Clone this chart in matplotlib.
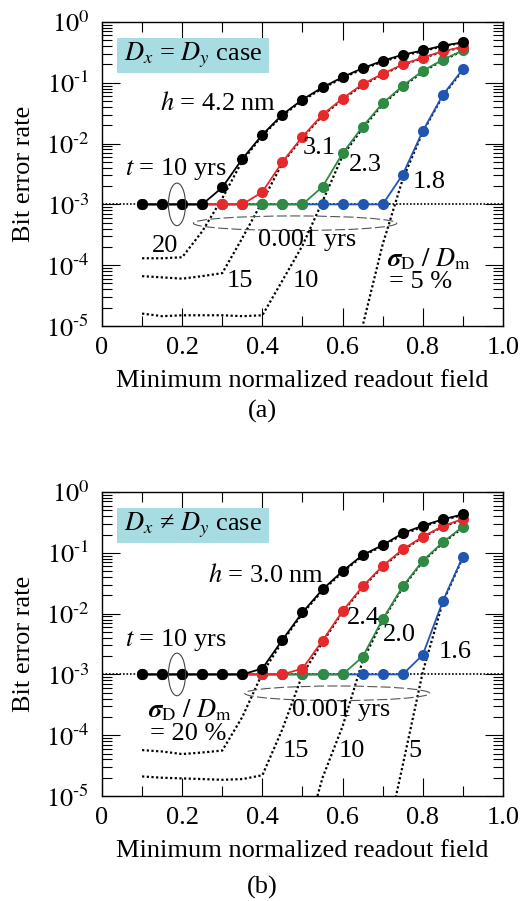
import matplotlib
matplotlib.use("Agg")
import matplotlib.pyplot as plt
from matplotlib.patches import Ellipse, Rectangle
from matplotlib.ticker import LogLocator, NullFormatter, MultipleLocator

plt.rcParams['font.family'] = ['Liberation Serif', 'DejaVu Serif']
plt.rcParams['mathtext.fontset'] = 'stix'

# ---------------- data ----------------
X = [0.10, 0.15, 0.20, 0.25, 0.30, 0.35, 0.40, 0.45, 0.50,
     0.55, 0.60, 0.65, 0.70, 0.75, 0.80, 0.85, 0.90]

# panel (a): Dx = Dy, t = 10 yrs
A_H_LABELS = ['4.2', '3.1', '2.3', '1.8']
A_BLACK = [1e-3, 1e-3, 1e-3, 1e-3, 1.9e-3, 5.6e-3, 1.4e-2, 3.0e-2, 5.3e-2,
           8.4e-2, 0.124, 0.174, 0.23, 0.29, 0.34, 0.41, 0.46]
A_RED = [1e-3, 1e-3, 1e-3, 1e-3, 1e-3, 1e-3, 1.6e-3, 5.0e-3, 1.3e-2,
         3.0e-2, 5.5e-2, 9.5e-2, 0.14, 0.20, 0.26, 0.33, 0.39]
A_GREEN = [1e-3, 1e-3, 1e-3, 1e-3, 1e-3, 1e-3, 1e-3, 1e-3, 1e-3,
           1.95e-3, 6.9e-3, 1.9e-2, 4.6e-2, 8.9e-2, 0.157, 0.24, 0.34]
A_BLUE = [1e-3, 1e-3, 1e-3, 1e-3, 1e-3, 1e-3, 1e-3, 1e-3, 1e-3,
          1e-3, 1e-3, 1e-3, 1e-3, 3.1e-3, 1.6e-2, 6.3e-2, 0.167]
# panel (a): t = 0.001 yrs (dotted), sigma_D/D_m = 20, 15, 10, 5 %
A_S20 = [1.3e-4, 1.3e-4, 1.35e-4, 3.6e-4, 1.26e-3, 5.2e-3, 1.35e-2, 2.9e-2, 5.1e-2,
         8.1e-2, 0.12, 0.168, 0.222, 0.28, 0.33, 0.40, 0.455]
A_S15 = [6.6e-5, 6.3e-5, 6.0e-5, 6.6e-5, 7.4e-5, 2.8e-4, 1.12e-3, 4.8e-3, 1.25e-2,
         2.9e-2, 5.3e-2, 9.2e-2, 0.137, 0.197, 0.255, 0.325, 0.385]
A_S10 = [1.6e-5, 1.45e-5, 1.5e-5, 1.5e-5, 1.5e-5, 1.45e-5, 1.5e-5, 5.6e-5, 2.1e-4,
         1.12e-3, 6.3e-3, 1.8e-2, 4.4e-2, 8.6e-2, 0.152, 0.235, 0.335]
A_S5_X = [0.60, 0.65, 0.70, 0.75, 0.80, 0.85, 0.90]
A_S5 = [5e-7, 1.0e-5, 2.2e-4, 2.6e-3, 1.55e-2, 6.1e-2, 0.162]

# panel (b): Dx != Dy
B_H_LABELS = ['3.0', '2.4', '2.0', '1.6']
B_BLACK = [1e-3, 1e-3, 1e-3, 1e-3, 1e-3, 1e-3, 1.25e-3, 3.7e-3, 1.05e-2,
           2.5e-2, 5.0e-2, 9.2e-2, 0.134, 0.21, 0.28, 0.355, 0.43]
B_RED = [1e-3, 1e-3, 1e-3, 1e-3, 1e-3, 1e-3, 1e-3, 1e-3, 1.25e-3,
         3.6e-3, 1.1e-2, 2.8e-2, 6.1e-2, 0.114, 0.184, 0.276, 0.36]
B_GREEN = [1e-3, 1e-3, 1e-3, 1e-3, 1e-3, 1e-3, 1e-3, 1e-3, 1e-3,
           1e-3, 1e-3, 1.95e-3, 8.1e-3, 2.8e-2, 7.4e-2, 0.149, 0.27]
B_BLUE = [1e-3, 1e-3, 1e-3, 1e-3, 1e-3, 1e-3, 1e-3, 1e-3, 1e-3,
          1e-3, 1e-3, 1e-3, 1e-3, 1e-3, 2.1e-3, 1.6e-2, 8.7e-2]
B_S20 = [5.7e-5, 5.4e-5, 4.9e-5, 5.2e-5, 5.6e-5, 2.0e-4, 1.05e-3, 3.5e-3, 1.0e-2,
         2.4e-2, 4.8e-2, 8.9e-2, 0.13, 0.20, 0.27, 0.345, 0.42]
B_S15 = [2.1e-5, 2.0e-5, 1.95e-5, 1.9e-5, 1.85e-5, 1.9e-5, 2.2e-5, 1.26e-4, 1.0e-3,
         3.4e-3, 1.06e-2, 2.7e-2, 5.9e-2, 0.11, 0.18, 0.27, 0.35]
B_S10_X = [0.50, 0.55, 0.60, 0.65, 0.70, 0.75, 0.80, 0.85, 0.90]
B_S10 = [1.3e-6, 2.0e-5, 1.4e-4, 1.66e-3, 7.8e-3, 2.7e-2, 7.2e-2, 0.145, 0.26]
B_S5_X = [0.70, 0.75, 0.80, 0.85, 0.90]
B_S5 = [1e-6, 3.2e-5, 1.1e-3, 1.55e-2, 8.4e-2]

THRESHOLD = 1e-3
XTICKS = [0, 0.2, 0.4, 0.6, 0.8, 1.0]
XTICK_LABELS = ['0', '0.2', '0.4', '0.6', '0.8', '1.0']
YTICKS = [1e-5, 1e-4, 1e-3, 1e-2, 1e-1, 1e0]
YTICK_LABELS = [r'$10^{\text{-5}}$', r'$10^{\text{-4}}$', r'$10^{\text{-3}}$',
                r'$10^{\text{-2}}$', r'$10^{\text{-1}}$', r'$10^{0}$']

COLORS = ['black', '#e8292b', '#2f8a43', '#2156b0']
FS = 19

fig = plt.figure(figsize=(5.23, 9.01), dpi=100)
ax_a = fig.add_axes([0.195, 0.6382, 0.7667, 0.3374])
ax_b = fig.add_axes([0.195, 0.1165, 0.7667, 0.3374])

dot = (0, (1.0, 1.1))


def style(ax):
    ax.set_yscale('log')
    ax.set_xlim(0, 1.0)
    ax.set_ylim(1e-5, 1e0)
    ax.set_xticks(XTICKS)
    ax.set_xticklabels(XTICK_LABELS)
    ax.xaxis.set_minor_locator(MultipleLocator(0.1))
    ax.set_yticks(YTICKS)
    ax.set_yticklabels(YTICK_LABELS)
    ax.yaxis.set_minor_locator(LogLocator(base=10, subs=range(2, 10), numticks=20))
    ax.yaxis.set_minor_formatter(NullFormatter())
    ax.tick_params(which='both', direction='in', top=True, right=True, width=0.8)
    ax.tick_params(which='major', length=13, labelsize=FS)
    ax.tick_params(which='minor', length=7)
    ax.tick_params(axis='x', which='major', pad=8)
    ax.tick_params(axis='y', which='major', pad=9)
    for s in ax.spines.values():
        s.set_linewidth(1.0)
    ax.set_xlabel('Minimum normalized readout field', fontsize=FS)
    ax.set_ylabel('Bit error rate', fontsize=FS)
    ax.xaxis.set_label_coords(0.5, -0.145)
    ax.yaxis.set_label_coords(-0.167, 0.5)


def draw(ax, series, dotted):
    ax.axhline(THRESHOLD, color='black', lw=1.2, ls=dot, zorder=1)
    for xs, ys in dotted:
        ax.plot(xs, ys, color='black', lw=1.6, ls=dot, zorder=2)
    for i in reversed(range(len(series))):
        ax.plot(X, series[i], color=COLORS[i], lw=1.3, marker='o', ms=8,
                mec='none', zorder=3 + (len(series) - i))


def case_box(ax, txt):
    ax.add_patch(Rectangle((0.0375, 0.832), 0.38, 0.115, transform=ax.transAxes,
                           facecolor='#a8dce3', edgecolor='none', zorder=6))
    ax.text(0.2275, 0.889, txt, transform=ax.transAxes, fontsize=FS,
            ha='center', va='center', zorder=7)


def ellipses(ax, x_dash0, x_dash1):
    ax.add_patch(Ellipse((0.187, 0.4), 0.0425, 0.14, transform=ax.transAxes,
                         fill=False, edgecolor='#444444', lw=0.8, zorder=8))
    ax.add_patch(Ellipse(((x_dash0 + x_dash1) / 2, (5 - 3.31) / 5), x_dash1 - x_dash0, 0.048,
                         transform=ax.transAxes, fill=False, edgecolor='#555555',
                         lw=0.8, ls=(0, (9, 3)), zorder=8))


# ---- panel (a)
style(ax_a)
draw(ax_a, [A_BLACK, A_RED, A_GREEN, A_BLUE],
     [(X, A_S20), (X, A_S15), (X, A_S10), (A_S5_X, A_S5)])
case_box(ax_a, r'$D_x$ = $D_y$ case')
ellipses(ax_a, 0.228, 0.735)
kw = dict(fontsize=FS, ha='left', va='center', zorder=9)
ax_a.text(0.145, 0.045, r'$h$ = 4.2 nm', **kw)
ax_a.text(0.50, 8.5e-3, A_H_LABELS[1], **kw)
ax_a.text(0.615, 4.5e-3, A_H_LABELS[2], **kw)
ax_a.text(0.775, 2.3e-3, A_H_LABELS[3], **kw)
ax_a.text(0.058, 3.8e-3, r'$t$ = 10 yrs', **kw)
ax_a.text(0.125, 2.1e-4, '20', **kw)
ax_a.text(0.388, 2.6e-4, '0.001 yrs', **kw)
ax_a.text(0.31, 5.5e-5, '15', **kw)
ax_a.text(0.475, 5.5e-5, '10', **kw)
ax_a.text(0.71, 1.26e-4, r'$\boldsymbol{\sigma}_{\mathrm{D}}\ /\ D_{\mathrm{m}}$', **kw)
ax_a.text(0.715, 5.2e-5, '= 5 %', **kw)

# ---- panel (b)
style(ax_b)
draw(ax_b, [B_BLACK, B_RED, B_GREEN, B_BLUE],
     [(X, B_S20), (X, B_S15), (B_S10_X, B_S10), (B_S5_X, B_S5)])
case_box(ax_b, '$D_x$ \u2260 $D_y$ case')
ellipses(ax_b, 0.356, 0.817)
ax_b.text(0.265, 0.043, r'$h$ = 3.0 nm', **kw)
ax_b.text(0.61, 8.5e-3, B_H_LABELS[1], **kw)
ax_b.text(0.70, 4.5e-3, B_H_LABELS[2], **kw)
ax_b.text(0.84, 2.3e-3, B_H_LABELS[3], **kw)
ax_b.text(0.058, 3.7e-3, r'$t$ = 10 yrs', **kw)
ax_b.text(0.115, 2.6e-4, r'$\boldsymbol{\sigma}_{\mathrm{D}}\ /\ D_{\mathrm{m}}$', **kw)
ax_b.text(0.12, 1.05e-4, '= 20 %', **kw)
ax_b.text(0.475, 2.6e-4, '0.001 yrs', **kw)
ax_b.text(0.45, 5.5e-5, '15', **kw)
ax_b.text(0.59, 5.5e-5, '10', **kw)
ax_b.text(0.765, 5.5e-5, '5', **kw)

fig.text(262 / 523, 1 - 411 / 901, '(a)', fontsize=FS, ha='center', va='center')
fig.text(262 / 523, 1 - 887 / 901, '(b)', fontsize=FS, ha='center', va='center')

fig.savefig('out.png', dpi=100)
